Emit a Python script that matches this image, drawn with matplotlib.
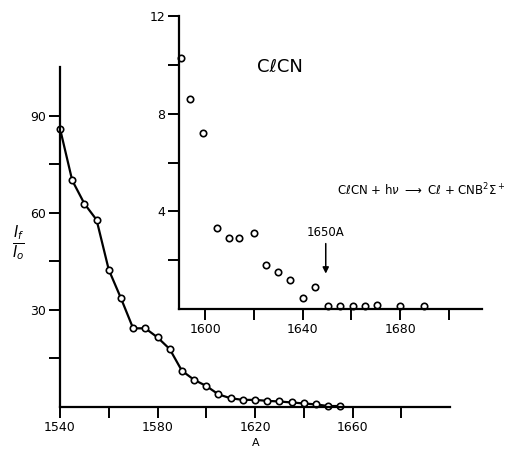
import numpy as np
import matplotlib.pyplot as plt

# main curve: I_f / I_o vs wavelength (A)
wl = [1540, 1545, 1550, 1555, 1560, 1565, 1570, 1575, 1580, 1585, 1590, 1595,
      1600, 1605, 1610, 1615, 1620, 1625, 1630, 1635, 1640, 1645, 1650, 1655]
ratio = [86, 70, 62.8, 57.8, 42.4, 33.6, 24.3, 24.3, 21.5, 17.9, 11.2, 8.4,
         6.5, 3.9, 2.7, 2.2, 2.2, 1.9, 1.7, 1.4, 1.1, 0.8, 0.3, 0.3]

# inset: enlarged tail
wl_in = [1590, 1594, 1599, 1605, 1610, 1614, 1620, 1625, 1630, 1635, 1640, 1645,
         1650.5, 1655.5, 1660.5, 1665.5, 1670.5, 1680, 1690]
ratio_in = [10.3, 8.6, 7.2, 3.3, 2.9, 2.9, 3.1, 1.8, 1.5, 1.2, 0.46, 0.9,
            0.13, 0.12, 0.12, 0.12, 0.16, 0.12, 0.12]

W, H = 512, 449
fig = plt.figure(figsize=(W / 100, H / 100), dpi=100)
plt.rcParams['font.family'] = 'DejaVu Sans'


def px(l, t, r, b):
    return [l / W, 1 - b / H, (r - l) / W, (b - t) / H]


def style(ax):
    for s in ['top', 'right']:
        ax.spines[s].set_visible(False)
    for s in ['left', 'bottom']:
        ax.spines[s].set_linewidth(1.6)
    ax.tick_params(direction='out', length=8, width=1.4, labelsize=9, pad=2)


################ main plot
ax = fig.add_axes(px(60, 67, 450, 407))
ax.plot(wl, ratio, color='black', lw=1.6, marker='o', ms=4.6,
        mfc='white', mec='black', mew=1.2, clip_on=False)
ax.set_xlim(1540, 1700)
ax.set_ylim(0, 105)
ax.set_xticks(np.arange(1540, 1700, 20))
ax.set_xticklabels(['1540', '', '1580', '', '1620', '', '1660', ''])
ax.set_yticks([15, 30, 45, 60, 75, 90])
ax.set_yticklabels(['', '30', '', '60', '', '90'])
ax.patch.set_alpha(0)
style(ax)

################ inset
ax2 = fig.add_axes(px(179, 16, 482, 309))
ax2.plot(wl_in, ratio_in, ls='none', marker='o', ms=4.6,
         mfc='white', mec='black', mew=1.2, clip_on=False)
ax2.set_xlim(1589.3, 1713.6)
ax2.set_ylim(0, 12)
ax2.set_xticks(np.arange(1600, 1701, 20))
ax2.set_xticklabels(['1600', '', '1640', '', '1680', ''])
ax2.set_yticks([2, 4, 6, 8, 10, 12])
ax2.set_yticklabels(['', '4', '', '8', '', '12'])
ax2.patch.set_alpha(0)
style(ax2)

ax2.annotate('1650A', xy=(1649.5, 1.45), xytext=(1649.5, 2.85),
             ha='center', va='bottom', fontsize=8.5,
             arrowprops=dict(arrowstyle='-|>', color='black', lw=1.1,
                             mutation_scale=9, shrinkA=1, shrinkB=0))

fig.text(280 / W, 1 - 67 / H, 'C\u2113CN', ha='center', va='center', fontsize=13)
fig.text(421 / W, 1 - 190 / H,
         r'C$\ell$CN + h$\nu$ $\longrightarrow$ C$\ell$ + CNB$^2\Sigma^+$',
         ha='center', va='center', fontsize=8.5)
fig.text(18 / W, 1 - 243 / H, r'$\frac{I_f}{I_o}$', ha='center', va='center', fontsize=15)
fig.text(256 / W, 1 - 448 / H, 'A', ha='center', va='bottom', fontsize=8)

fig.savefig('out.png', dpi=100)
